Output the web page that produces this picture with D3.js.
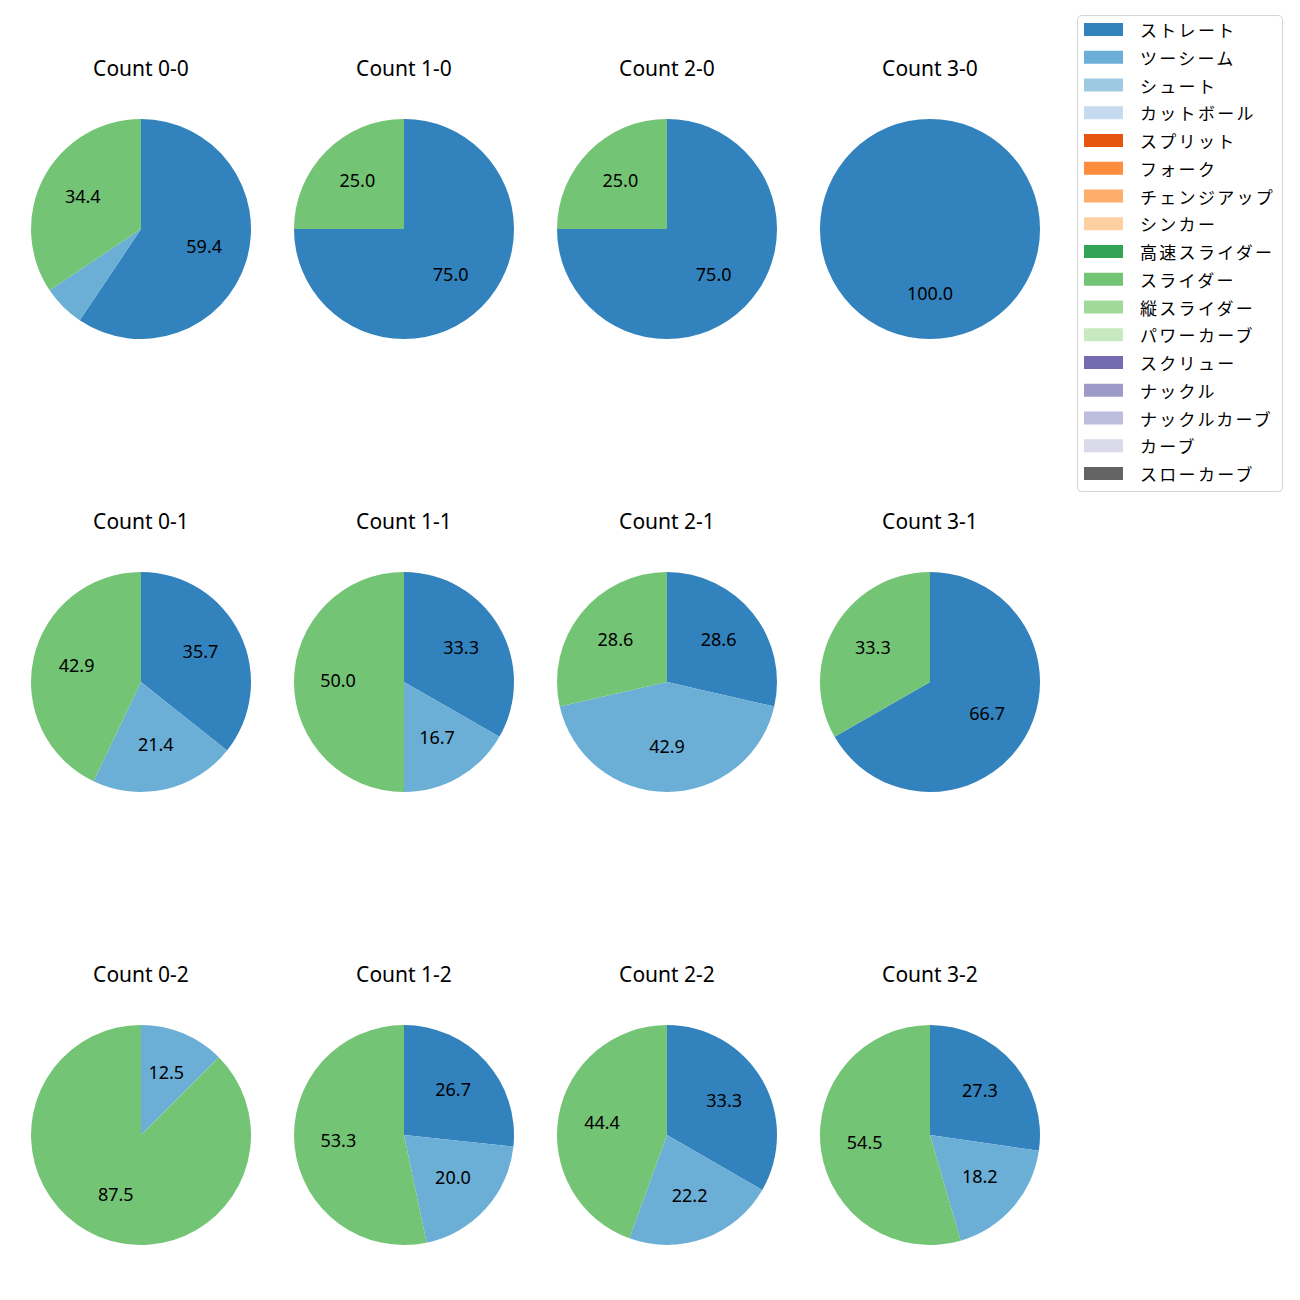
<!DOCTYPE html>
<html>
<head>
<meta charset="utf-8">
<script src="https://cdn.jsdelivr.net/npm/d3@7"></script>
<style>
  body { margin: 0; background: #fff; }
  svg { display: block; }
</style>
</head>
<body>
<svg id="chart" width="1300" height="1300"></svg>
<script>
// ---- Data ----
const counts = ["0-0","1-0","2-0","3-0","0-1","1-1","2-1","3-1","0-2","1-2","2-2","3-2"];
const pitchTypes = ["ストレート","ツーシーム","シュート","カットボール","スプリット","フォーク","チェンジアップ","シンカー","高速スライダー","スライダー","縦スライダー","パワーカーブ","スクリュー","ナックル","ナックルカーブ","カーブ","スローカーブ"];
const pitchColors = ["#3182bd","#6baed6","#9ecae1","#c6dbef","#e6550d","#fd8d3c","#fdae6b","#fdd0a2","#31a354","#74c476","#a1d99b","#c7e9c0","#756bb1","#9e9ac8","#bcbddc","#dadaeb","#636363"];
// percentages per count (same order as counts)
const straight = [59.4, 75.0, 75.0, 100.0, 35.7, 33.3, 28.6, 66.7, 0, 26.7, 33.3, 27.3];
const twoSeam  = [6.2, 0, 0, 0, 21.4, 16.7, 42.9, 0, 12.5, 20.0, 22.2, 18.2];
const slider   = [34.4, 25.0, 25.0, 0, 42.9, 50.0, 28.6, 33.3, 87.5, 53.3, 44.4, 54.5];

// ---- Layout ----
const svg = d3.select("#chart");
const colX = d3.scalePoint().domain([0,1,2,3]).range([141, 930]);
const rowY = d3.scalePoint().domain([0,1,2]).range([229, 1135]);
const R = 110;
const color = d3.scaleOrdinal().domain(pitchTypes).range(pitchColors);

const pie = d3.pie().sort(null).value(d => d.value).startAngle(0).endAngle(2 * Math.PI);
const arc = d3.arc().innerRadius(0).outerRadius(R);
const labelArc = d3.arc().innerRadius(R * 0.6).outerRadius(R * 0.6);

counts.forEach((c, i) => {
  const col = i % 4, row = Math.floor(i / 4);
  const cx = colX(col), cy = rowY(row);
  const data = [
    {name: "ストレート", value: straight[i]},
    {name: "ツーシーム", value: twoSeam[i]},
    {name: "スライダー", value: slider[i]}
  ].filter(d => d.value > 0);
  const total = d3.sum(data, d => d.value);
  const g = svg.append("g").attr("transform", `translate(${cx},${cy})`);
  const arcs = pie(data);
  g.selectAll("path").data(arcs).join("path")
    .attr("d", arc)
    .attr("fill", d => color(d.data.name));
  g.selectAll("text.lbl").data(arcs.filter(d => d.data.value / total * 100 >= 10)).join("text")
    .attr("class", "lbl")
    .attr("transform", d => { const p = labelArc.centroid(d); return `translate(${p[0]},${p[1] - 2})`; })
    .attr("text-anchor", "middle")
    .attr("dominant-baseline", "central")
    .style("font-family", "'Noto Sans', sans-serif")
    .style("font-size", "18px")
    .attr("fill", "#000")
    .text(d => (d.data.value).toFixed(1));
  svg.append("text")
    .attr("x", cx).attr("y", cy - 161)
    .attr("text-anchor", "middle")
    .attr("dominant-baseline", "central")
    .style("font-family", "'Noto Sans', sans-serif")
    .style("font-size", "21px")
    .attr("fill", "#000")
    .text("Count " + c);
});

// ---- Legend ----
const legend = svg.append("g");
legend.append("rect")
  .attr("x", 1077.5).attr("y", 15.5).attr("width", 205).attr("height", 476)
  .attr("rx", 4).attr("ry", 4)
  .attr("fill", "#fff").attr("stroke", "#d5d5d5").attr("stroke-width", 1);
const ly = d3.scalePoint().domain(pitchTypes).range([29.5, 473.5]);
const items = legend.selectAll("g.item").data(pitchTypes).join("g")
  .attr("class", "item")
  .attr("transform", d => `translate(0,${ly(d)})`);
items.append("rect")
  .attr("x", 1084).attr("y", -6.5).attr("width", 39).attr("height", 13)
  .attr("fill", d => color(d));
items.append("text")
  .attr("x", 1140).attr("y", 0)
  .attr("dominant-baseline", "central")
  .style("font-family", "'Noto Sans CJK JP', sans-serif")
  .style("font-size", "17px")
  .style("letter-spacing", "2.3px")
  .attr("fill", "#000")
  .text(d => d);
</script>
</body>
</html>
